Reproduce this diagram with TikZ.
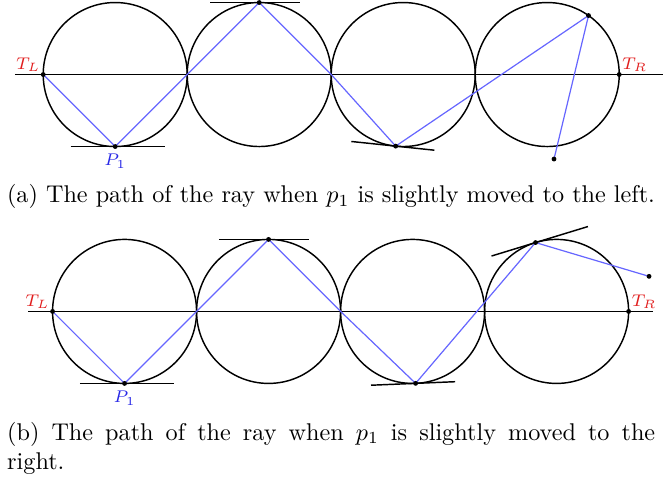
\documentclass[tikz,border=0pt]{standalone}
\usepackage{tikz}
\usepackage{amsmath}
\usetikzlibrary{positioning}
\definecolor{rayc}{RGB}{102,102,255}
\definecolor{tcol}{RGB}{225,30,30}
\definecolor{pcol}{RGB}{40,40,230}

\begin{document}
\begin{tikzpicture}[x=29.75pt, y=29.75pt,
    mirror/.style={line width=0.6pt},
    tang/.style={line width=0.6pt},
    ray/.style={rayc, line width=0.5pt},
    lblt/.style={text=tcol, font=\scriptsize, inner sep=1pt},
    lblp/.style={text=pcol, font=\scriptsize, inner sep=1pt},
    captext/.style={inner sep=0pt}]

    \useasboundingbox (0,0.035) rectangle (9.208,-6.673);

    % ── (a) p1 moved to the left ─────────────────────────────
    \foreach \i/\x in {1/1.6, 2/3.6, 3/5.6, 4/7.6}
      \coordinate (ca\i) at (\x,-1);
    \coordinate (axa0) at (0.208,-1);
    \coordinate (axa1) at (9.208,-1);
    \coordinate (tla) at (0.6,-1);
    \coordinate (tra) at (8.6,-1);
    \coordinate (ma1) at (2.6,-1);
    \coordinate (ma2) at (4.6,-1);
    \coordinate (pa1) at ([shift={(270:1)}]ca1);
    \coordinate (qa2) at ([shift={(90:1)}]ca2);
    \coordinate (qa3) at ([shift={(264:1)}]ca3);
    \coordinate (qa4) at ([shift={(55:1)}]ca4);
    \coordinate (ea) at ([shift={(0.094,-1.174)}]ca4);

    \foreach \i in {1,...,4}
      \draw[mirror] (ca\i) circle[radius=1];
    \draw[mirror] (axa0) -- (axa1);
    % tangents at the reflection points
    \draw[tang] ([shift={(180:0.62)}]pa1) -- ([shift={(0:0.69)}]pa1);
    \draw[tang] ([shift={(180:0.68)}]qa2) -- ([shift={(0:0.57)}]qa2);
    \draw[tang] ([shift={(174:0.62)}]qa3) -- ([shift={(-6:0.54)}]qa3);
    \draw[ray] (tla) -- (pa1) -- (ma1) -- (qa2) -- (ma2) -- (qa3) -- (qa4) -- (ea);
    \foreach \p in {tla, pa1, qa2, qa3, qa4, ea, tra}
      \fill (\p) circle[radius=1pt];
    \node[lblt, above left=0pt of tla] (ltla) {$T_L$};
    \node[lblt, above right=0pt of tra] (ltra) {$T_R$};
    \node[lblp, below=2pt of pa1] (lpa1) {$P_1$};
    \node[captext] (capa) at (4.597,-2.70)
      {(a) The path of the ray when $p_1$ is slightly moved to the left.};

    % ── (b) p1 moved to the right ────────────────────────────
    \foreach \i/\x in {1/1.73, 2/3.73, 3/5.73, 4/7.73}
      \coordinate (cb\i) at (\x,-4.29);
    \coordinate (axb0) at (0.389,-4.29);
    \coordinate (axb1) at (9.065,-4.29);
    \coordinate (tlb) at (0.73,-4.29);
    \coordinate (trb) at (8.73,-4.29);
    \coordinate (mb1) at (2.73,-4.29);
    \coordinate (mb2) at (4.73,-4.29);
    \coordinate (pb1) at ([shift={(270:1)}]cb1);
    \coordinate (qb2) at ([shift={(90:1)}]cb2);
    \coordinate (qb3) at ([shift={(272.4:1)}]cb3);
    \coordinate (qb4) at ([shift={(107:1)}]cb4);
    \coordinate (eb) at ([shift={(1.284,0.487)}]cb4);

    \foreach \i in {1,...,4}
      \draw[mirror] (cb\i) circle[radius=1];
    \draw[mirror] (axb0) -- (axb1);
    % tangents at the reflection points
    \draw[tang] ([shift={(180:0.62)}]pb1) -- ([shift={(0:0.69)}]pb1);
    \draw[tang] ([shift={(180:0.69)}]qb2) -- ([shift={(0:0.56)}]qb2);
    \draw[tang] ([shift={(182.4:0.62)}]qb3) -- ([shift={(2.4:0.55)}]qb3);
    \draw[tang] ([shift={(197:0.64)}]qb4) -- ([shift={(17:0.76)}]qb4);
    \draw[ray] (tlb) -- (pb1) -- (mb1) -- (qb2) -- (mb2) -- (qb3) -- (qb4) -- (eb);
    \foreach \p in {tlb, pb1, qb2, qb3, qb4, eb, trb}
      \fill (\p) circle[radius=1pt];
    \node[lblt, above left=0pt of tlb] (ltlb) {$T_L$};
    \node[lblt, above right=0pt of trb] (ltrb) {$T_R$};
    \node[lblp, below=2pt of pb1] (lpb1) {$P_1$};
    \node[captext, text width=9.0*29.75pt, align=justify] (capb) at (4.6,-6.19)
      {(b) The path of the ray when $p_1$ is slightly moved to the\linebreak right.};

\end{tikzpicture}
\end{document}
